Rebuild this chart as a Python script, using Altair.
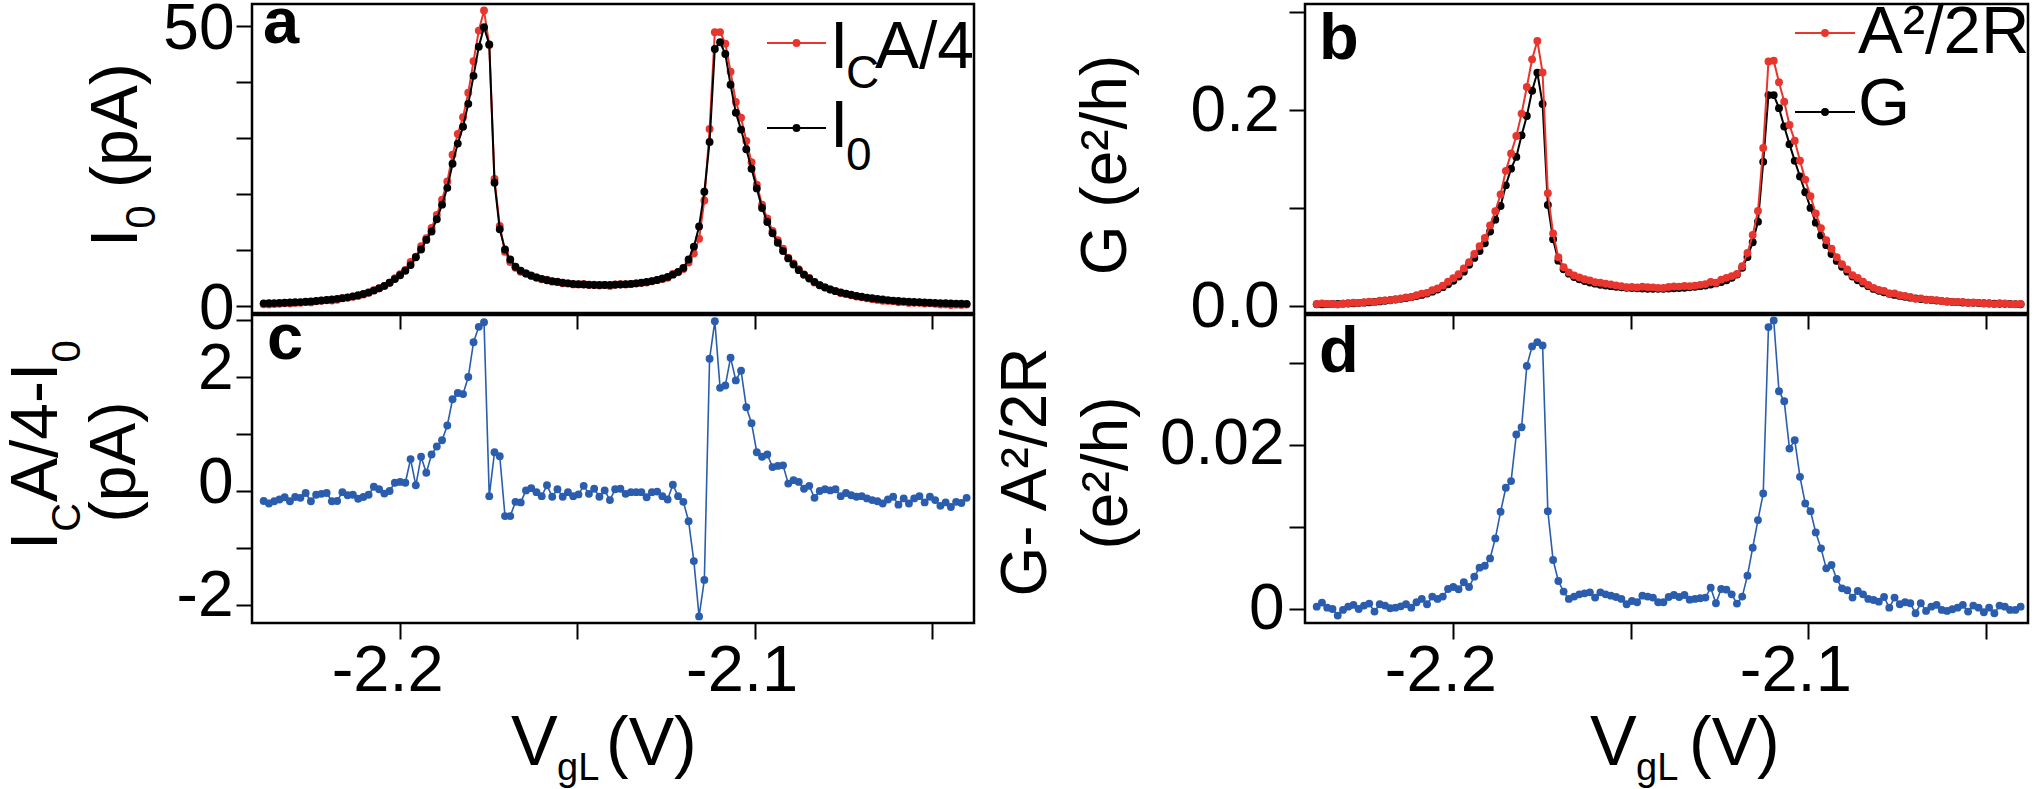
import altair as alt
import pandas as pd

# ---------------- data ----------------
VGL = [-2.2385, -2.23702, -2.23554, -2.23406, -2.23258, -2.2311, -2.22962, -2.22814, -2.22666, -2.22518,
       -2.2237, -2.22222, -2.22074, -2.21926, -2.21778, -2.2163, -2.21482, -2.21334, -2.21186, -2.21038,
       -2.2089, -2.20742, -2.20594, -2.20446, -2.20298, -2.2015, -2.20002, -2.19854, -2.19706, -2.19558,
       -2.1941, -2.19262, -2.19114, -2.18966, -2.18818, -2.1867, -2.18522, -2.18374, -2.18226, -2.18078,
       -2.1793, -2.17782, -2.17634, -2.17486, -2.17338, -2.1719, -2.17042, -2.16894, -2.16746, -2.16598,
       -2.1645, -2.16302, -2.16154, -2.16006, -2.15858, -2.1571, -2.15562, -2.15414, -2.15266, -2.15118,
       -2.1497, -2.14822, -2.14674, -2.14526, -2.14378, -2.1423, -2.14082, -2.13934, -2.13786, -2.13638,
       -2.1349, -2.13342, -2.13194, -2.13046, -2.12898, -2.1275, -2.12602, -2.12454, -2.12306, -2.12158,
       -2.1201, -2.11862, -2.11714, -2.11566, -2.11418, -2.1127, -2.11122, -2.10974, -2.10826, -2.10678,
       -2.1053, -2.10382, -2.10234, -2.10086, -2.09938, -2.0979, -2.09642, -2.09494, -2.09346, -2.09198,
       -2.0905, -2.08902, -2.08754, -2.08606, -2.08458, -2.0831, -2.08162, -2.08014, -2.07866, -2.07718,
       -2.0757, -2.07422, -2.07274, -2.07126, -2.06978, -2.0683, -2.06682, -2.06534, -2.06386, -2.06238,
       -2.0609, -2.05942, -2.05794, -2.05646, -2.05498, -2.0535, -2.05202, -2.05054, -2.04906, -2.04758,
       -2.0461, -2.04462, -2.04314, -2.04166, -2.04018]

# panel a, black: I0 (pA)
I0 = [0.48, 0.50, 0.52, 0.55, 0.58, 0.62, 0.66, 0.70, 0.76, 0.82,
      0.90, 0.98, 1.07, 1.17, 1.28, 1.40, 1.55, 1.72, 1.92, 2.15,
      2.42, 2.75, 3.15, 3.60, 4.15, 4.80, 5.50, 6.30, 7.30, 8.70,
      10.1, 11.8, 13.3, 15.5, 18.1, 21.1, 25.4, 29.0, 32.0, 36.1,
      41.1, 46.3, 49.8, 46.7, 22.0, 13.7, 10.1, 8.3, 7.0, 6.3,
      5.8, 5.4, 5.1, 4.85, 4.6, 4.45, 4.3, 4.15, 4.05, 3.95,
      3.9, 3.85, 3.8, 3.75, 3.75, 3.75, 3.75, 3.8, 3.85, 3.9,
      3.95, 4.05, 4.15, 4.3, 4.45, 4.65, 4.9, 5.2, 5.6, 6.1,
      6.8, 8.3, 10.6, 14.2, 20.4, 29.3, 45.9, 47.1, 45.0, 39.5,
      34.5, 31.5, 28.0, 24.5, 21.0, 17.5, 15.0, 13.0, 11.3, 9.8,
      8.5, 7.4, 6.4, 5.6, 4.9, 4.3, 3.7, 3.3, 2.95, 2.65,
      2.4, 2.2, 2.0, 1.8, 1.65, 1.5, 1.38, 1.27, 1.16, 1.06,
      0.97, 0.9, 0.83, 0.77, 0.72, 0.67, 0.63, 0.59, 0.55, 0.52,
      0.49, 0.46, 0.43, 0.41, 0.39]

# panel a, red: I_C A/4 (pA)
ICA4 = [0.305, 0.28, 0.34, 0.40, 0.47, 0.44, 0.555, 0.58, 0.725, 0.64,
        0.835, 0.93, 1.035, 0.99, 1.105, 1.38, 1.475, 1.655, 1.785, 2.045,
        2.355, 2.825, 3.18, 3.555, 4.15, 4.945, 5.66, 6.445, 7.86, 8.80,
        10.70, 12.12, 13.94, 16.28, 18.99, 22.25, 27.01, 30.72, 33.70, 38.10,
        43.71, 49.18, 52.76, 46.61, 22.68, 14.31, 9.66, 7.86, 6.81, 6.10,
        5.81, 5.45, 5.08, 4.76, 4.70, 4.35, 4.33, 4.05, 4.03, 3.86,
        3.84, 3.94, 3.75, 3.79, 3.65, 3.76, 3.59, 3.83, 3.89, 3.85,
        3.93, 4.03, 4.13, 4.19, 4.43, 4.64, 4.81, 5.05, 5.71, 6.01,
        6.61, 7.77, 9.37, 12.00, 18.84, 31.62, 48.88, 48.91, 46.85, 41.84,
        36.44, 33.61, 29.47, 25.69, 21.68, 18.10, 15.64, 13.42, 11.74, 10.25,
        8.63, 7.59, 6.56, 5.64, 4.99, 4.18, 3.70, 3.33, 2.96, 2.68,
        2.31, 2.165, 1.925, 1.70, 1.56, 1.37, 1.22, 1.09, 0.94, 0.91,
        0.87, 0.66, 0.70, 0.55, 0.59, 0.58, 0.43, 0.49, 0.39, 0.26,
        0.29, 0.18, 0.24, 0.20, 0.27]

# panel b, black: G (e^2/h)
G = [0.0017, 0.0018, 0.0019, 0.0020, 0.0022, 0.0024, 0.0026, 0.0028, 0.0031, 0.0034,
     0.0038, 0.0042, 0.0047, 0.0053, 0.0059, 0.0066, 0.0073, 0.0081, 0.0090, 0.0101,
     0.0113, 0.0128, 0.0146, 0.0167, 0.0192, 0.0222, 0.0257, 0.0300, 0.0350, 0.0420,
     0.0490, 0.0560, 0.0640, 0.0760, 0.0880, 0.1020, 0.1230, 0.1400, 0.1520, 0.1740,
     0.1937, 0.2195, 0.2378, 0.2059, 0.1030, 0.0680, 0.0462, 0.0374, 0.0330, 0.0296,
     0.0272, 0.0254, 0.0240, 0.0228, 0.0216, 0.0209, 0.0202, 0.0195, 0.0190, 0.0186,
     0.0183, 0.0181, 0.0179, 0.0176, 0.0176, 0.0176, 0.0176, 0.0179, 0.0181, 0.0183,
     0.0186, 0.0190, 0.0195, 0.0202, 0.0209, 0.0218, 0.0230, 0.0244, 0.0263, 0.0287,
     0.0320, 0.0390, 0.0500, 0.0650, 0.0860, 0.1470, 0.2150, 0.2150, 0.2017, 0.1830,
     0.1650, 0.1480, 0.1320, 0.1160, 0.1000, 0.0850, 0.0720, 0.0620, 0.0530, 0.0460,
     0.0400, 0.0350, 0.0300, 0.0263, 0.0230, 0.0202, 0.0174, 0.0155, 0.0139, 0.0125,
     0.0113, 0.0103, 0.0094, 0.0085, 0.0078, 0.0071, 0.0065, 0.0060, 0.0055, 0.0050,
     0.0046, 0.0042, 0.0039, 0.0036, 0.0034, 0.0032, 0.0030, 0.0028, 0.0026, 0.0024,
     0.0023, 0.0022, 0.0020, 0.0019, 0.0018]

# panel b, red: A^2/2R (e^2/h)
A2_2R = [0.00202, 0.00261, 0.0021, 0.00204, 0.00143, 0.00232, 0.00292, 0.00333, 0.00314, 0.00385,
         0.00449, 0.00392, 0.00531, 0.00575, 0.00602, 0.0068, 0.00766, 0.00871, 0.0092, 0.01095,
         0.01256, 0.01341, 0.01614, 0.01796, 0.02074, 0.02467, 0.02841, 0.03243, 0.03828, 0.04471,
         0.05297, 0.06106, 0.0693, 0.08219, 0.09662, 0.11386, 0.13778, 0.15559, 0.17326, 0.19615,
         0.2233, 0.25148, 0.2703, 0.238, 0.11494, 0.07399, 0.04964, 0.03955, 0.03426, 0.03114,
         0.02902, 0.02734, 0.02606, 0.02422, 0.02366, 0.02272, 0.02186, 0.021, 0.02026, 0.01921,
         0.01931, 0.01895, 0.01956, 0.01914, 0.01902, 0.01845, 0.01845, 0.0194, 0.01984, 0.0198,
         0.02034, 0.02017, 0.02076, 0.02154, 0.02232, 0.02443, 0.02373, 0.02687, 0.02869, 0.03052,
         0.03269, 0.04054, 0.05409, 0.07249, 0.09685, 0.16109, 0.24933, 0.25014, 0.22822, 0.2083,
         0.18455, 0.16857, 0.14811, 0.12887, 0.11194, 0.09435, 0.07941, 0.06698, 0.05838, 0.04968,
         0.04255, 0.03731, 0.03142, 0.02853, 0.02482, 0.02146, 0.01853, 0.01643, 0.0154, 0.0127,
         0.01272, 0.01091, 0.01025, 0.00923, 0.00731, 0.00783, 0.0063, 0.00632, 0.00603, 0.00492,
         0.0044, 0.0042, 0.0041, 0.00413, 0.00312, 0.00365, 0.0032, 0.00244, 0.0028, 0.00191,
         0.00275, 0.00252, 0.00192, 0.00182, 0.00212]

# panel c: I_C A/4 - I0 (pA)
DIFF_I = [-0.175, -0.22, -0.18, -0.15, -0.11, -0.18, -0.105, -0.12, -0.035, -0.18,
          -0.065, -0.05, -0.035, -0.18, -0.175, -0.02, -0.075, -0.065, -0.135, -0.105,
          -0.065, 0.075, 0.03, -0.045, 0.0, 0.145, 0.16, 0.145, 0.56, 0.10,
          0.60, 0.32, 0.64, 0.78, 0.89, 1.15, 1.61, 1.72, 1.70, 2.0,
          2.61, 2.88, 2.96, -0.09, 0.68, 0.61, -0.44, -0.44, -0.19, -0.20,
          0.01, 0.05, -0.02, -0.09, 0.10, -0.10, 0.03, -0.10, -0.02, -0.09,
          -0.06, 0.09, -0.05, 0.04, -0.10, 0.01, -0.16, 0.03, 0.04, -0.05,
          -0.02, -0.02, -0.02, -0.11, -0.02, -0.01, -0.09, -0.15, 0.11, -0.09,
          -0.19, -0.53, -1.23, -2.20, -1.56, 2.32, 2.98, 1.81, 1.85, 2.34,
          1.94, 2.11, 1.47, 1.19, 0.68, 0.60, 0.64, 0.42, 0.44, 0.45,
          0.13, 0.19, 0.16, 0.04, 0.09, -0.12, 0.0, 0.03, 0.01, 0.03,
          -0.09, -0.035, -0.075, -0.10, -0.09, -0.13, -0.16, -0.18, -0.22, -0.15,
          -0.10, -0.24, -0.13, -0.22, -0.13, -0.09, -0.20, -0.10, -0.16, -0.26,
          -0.20, -0.28, -0.19, -0.21, -0.12]

# panel d: G - A^2/2R (e^2/h)
DIFF_G = [0.00032, 0.00081, 0.0002, 0.00004, -0.00077, -0.00008, 0.00032, 0.00053, 0.00004, 0.00045,
          0.00069, -0.00028, 0.00061, 0.00045, 0.00012, 0.0002, 0.00036, 0.00061, 0.0002, 0.00085,
          0.00126, 0.00061, 0.00154, 0.00126, 0.00154, 0.00247, 0.00271, 0.00243, 0.00328, 0.00271,
          0.00397, 0.00506, 0.0053, 0.00619, 0.00862, 0.01186, 0.01478, 0.01559, 0.02126, 0.02215,
          0.0296, 0.03198, 0.0325, 0.0321, 0.01194, 0.00599, 0.00344, 0.00215, 0.00126, 0.00154,
          0.00182, 0.00194, 0.00206, 0.00142, 0.00206, 0.00182, 0.00166, 0.0015, 0.00126, 0.00061,
          0.00101, 0.00085, 0.00166, 0.00154, 0.00142, 0.00085, 0.00085, 0.0015, 0.00174, 0.0015,
          0.00174, 0.00117, 0.00126, 0.00134, 0.00142, 0.00263, 0.00073, 0.00247, 0.00239, 0.00182,
          0.00069, 0.00154, 0.00409, 0.00749, 0.01085, 0.01409, 0.03433, 0.03514, 0.02652, 0.0253,
          0.01955, 0.02057, 0.01611, 0.01287, 0.01194, 0.00935, 0.00741, 0.00498, 0.00538, 0.00368,
          0.00255, 0.00231, 0.00142, 0.00223, 0.00182, 0.00126, 0.00113, 0.00093, 0.0015, 0.0002,
          0.00142, 0.00061, 0.00085, 0.00073, -0.00049, 0.00073, -0.0002, 0.00032, 0.00053, -0.00008,
          -0.0002, 0.0, 0.0002, 0.00053, -0.00028, 0.00045, 0.0002, -0.00036, 0.0002, -0.00049,
          0.00045, 0.00032, -0.00008, -0.00008, 0.00032]

X_TICKS = [-2.2, -2.15, -2.1, -2.05]
YA_TICKS = [0, 10, 20, 30, 40, 50]
YB_TICKS = [0, 0.1, 0.2, 0.3]
YC_TICKS = [-2, -1, 0, 1, 2, 3]
YD_TICKS = [0, 0.01, 0.02, 0.03]

# ---------------- styling ----------------
RED = "#E8352E"
BLACK = "#000000"
BLUE = "#2B5DAE"
FONT = "Liberation Sans"
XDOM = [-2.2418, -2.0381]
WL, WR = 722, 723
HT, HB = 309, 308
TICK = dict(tickSize=16, tickWidth=2, tickColor="black", domain=False, grid=False, title=None)
DOT = 62

df = pd.DataFrame({"v": VGL, "i0": I0, "ica": ICA4, "g": G, "a2": A2_2R,
                   "di": DIFF_I, "dg": DIFF_G})


def x_axis(labels):
    if not labels:
        return alt.Axis(values=X_TICKS, labels=False, **TICK)
    return alt.Axis(values=X_TICKS, labelFont=FONT, labelFontSize=65, labelColor="black",
                    labelBaseline="alphabetic", labelPadding=51, labelOffset=-13,
                    labelExpr="datum.value < -2.19 && datum.value > -2.21 ? '-2.2' : "
                              "(datum.value < -2.09 && datum.value > -2.11 ? '-2.1' : '')",
                    **TICK)


def y_axis(values, expr, pad, off):
    return alt.Axis(values=values, labelExpr=expr, labelFont=FONT, labelFontSize=64,
                    labelColor="black", labelPadding=pad, labelOffset=off, **TICK)


def series(col, color, ydom, xax, yax, width=1.6, size=DOT):
    base = alt.Chart(df).encode(
        x=alt.X("v:Q", scale=alt.Scale(domain=XDOM, nice=False, zero=False), axis=xax),
        y=alt.Y(f"{col}:Q", scale=alt.Scale(domain=ydom, nice=False, zero=False), axis=yax),
    )
    return [base.mark_line(color=color, strokeWidth=width),
            base.mark_circle(color=color, size=size, opacity=1)]


def frame(w, h):
    return alt.Chart(alt.Data(values=[{"k": 1}])).mark_rect(
        fillOpacity=0, stroke="black", strokeWidth=2.5).encode(
        x=alt.value(0), x2=alt.value(w), y=alt.value(0), y2=alt.value(h))


def txt(x, y, s, size, angle=0, align="left", weight="normal", baseline="alphabetic"):
    return alt.Chart(alt.Data(values=[{"t": s}])).mark_text(
        align=align, baseline=baseline, fontSize=size, font=FONT, fontWeight=weight,
        angle=angle, color="black").encode(x=alt.value(x), y=alt.value(y), text="t:N")


def legend_line(x1, x2, y, color):
    d = alt.Data(values=[{"k": 1}])
    r = alt.Chart(d).mark_rule(color=color, strokeWidth=2).encode(
        x=alt.value(x1), x2=alt.value(x2), y=alt.value(y))
    p = alt.Chart(d).mark_circle(color=color, size=DOT, opacity=1).encode(
        x=alt.value((x1 + x2) / 2), y=alt.value(y))
    return [r, p]


# ---------------- panel a ----------------
ya = y_axis(YA_TICKS, "datum.value == 0 ? '0' : (datum.value == 50 ? '50' : '')", 2, 3)
xa = x_axis(False)
pa_layers = ([frame(WL, HT)] +
             series("ica", RED, [-1.25, 53.93], xa, ya, 2) +
             series("i0", BLACK, [-1.25, 53.93], xa, ya, 2) +
             [txt(11, 39, "a", 65, weight="bold")] +
             legend_line(515, 574, 39, RED) +
             [txt(578, 64, "I", 66), txt(594, 84, "C", 46), txt(623, 64, "A/4", 66)] +
             legend_line(515, 574, 124, BLACK) +
             [txt(578, 143, "I", 66), txt(594, 166, "0", 46)] +
             [txt(-115, 243, "I", 66, angle=270), txt(-97, 224.7, "0", 42, angle=270),
              txt(-115, 184, "(pA)", 66, angle=270)])
pa = alt.layer(*pa_layers).properties(width=WL, height=HT)

# ---------------- panel b ----------------
yb = y_axis(YB_TICKS, "datum.value == 0 ? '0.0' : (datum.value > 0.19 && datum.value < 0.21 ? '0.2' : '')", 10, 2)
pb_layers = ([frame(WR, HT)] +
             series("g", BLACK, [-0.00714, 0.3079], xa, yb, 2) +
             series("a2", RED, [-0.00714, 0.3079], xa, yb, 2) +
             [txt(14, 55, "b", 65, weight="bold")] +
             legend_line(490, 550, 29, RED) +
             [txt(553, 49, "A²/2R", 67)] +
             legend_line(490, 550, 108, BLACK) +
             [txt(553, 121, "G", 67)] +
             [txt(-179, 161, "G (e²/h)", 64, angle=270, align="center")])
pb = alt.layer(*pb_layers).properties(width=WR, height=HT)

# ---------------- panel c ----------------
yc = y_axis(YC_TICKS, "datum.value == 0 ? '0' : (datum.value == 2 ? '2' : (datum.value == -2 ? '-2' : ''))", 3, -8)
xc = x_axis(True)
pc_layers = ([frame(WL, HB)] +
             series("di", BLUE, [-2.316, 3.088], xc, yc, 1.6) +
             [txt(15, 44, "c", 65, weight="bold")] +
             [txt(-195, 235, "I", 66, angle=270), txt(-172, 216.7, "C", 40, angle=270),
              txt(-195, 187, "A/4-I", 66, angle=270), txt(-172, 47.6, "0", 40, angle=270),
              txt(-117, 147, "(pA)", 64, angle=270, align="center")] +
             [txt(259, 450, "V", 70), txt(305, 465, "gL", 38), txt(354, 450, "(V)", 68)])
pc = alt.layer(*pc_layers).properties(width=WL, height=HB)

# ---------------- panel d ----------------
yd = y_axis(YD_TICKS, "datum.value == 0 ? '0' : (datum.value > 0.019 && datum.value < 0.021 ? '0.02' : '')", 5, 0)
pd_layers = ([frame(WR, HB)] +
             series("dg", BLUE, [-0.00167, 0.0358], xc, yd, 1.6) +
             [txt(14, 57, "d", 65, weight="bold")] +
             [txt(-259, 157, "G- A²/2R", 64, angle=270, align="center"),
              txt(-178, 158, "(e²/h)", 64, angle=270, align="center")] +
             [txt(285, 450, "V", 70), txt(331, 465, "gL", 38), txt(384, 450, "(V)", 68)])
pdd = alt.layer(*pd_layers).properties(width=WR, height=HB)

chart = alt.concat(pa, pb, pc, pdd, columns=2, spacing={"row": 2, "column": 331},
                   bounds="flush").properties(
    autosize=alt.AutoSizeParams(type="none"),
    padding={"left": 252, "top": 4, "right": 1787, "bottom": 785},
).configure(font=FONT).configure_view(stroke="black", strokeWidth=2)

chart.save("out.html", embed_options={"renderer": "svg", "actions": False})
